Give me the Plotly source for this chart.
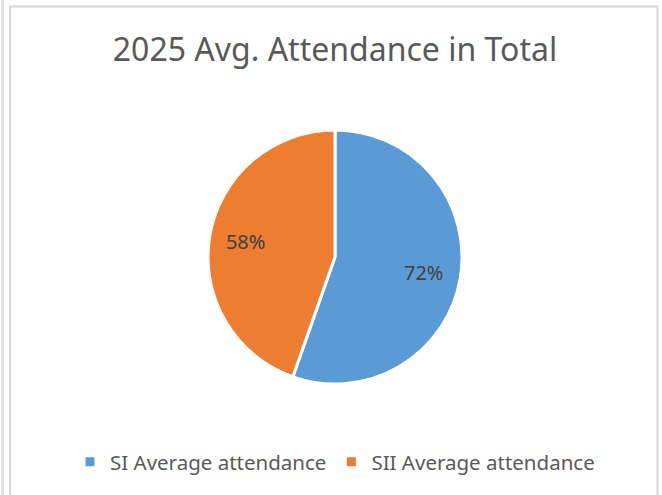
import plotly.graph_objects as go

labels = ["SI Average attendance", "SII Average attendance"]
values = [72, 58]
colors = ["#5B9BD5", "#ED7D31"]
title_text = "2025 Avg. Attendance in Total"

W, H = 662, 495
CX, CY, R = 335, 257, 127
RL = 180  # radius of the invisible label-carrying pie

def px(x):
    return x / W

def py(y):
    return 1 - y / H

fig = go.Figure()
fig.add_trace(go.Pie(
    labels=labels,
    values=values,
    sort=False,
    direction="clockwise",
    rotation=0,
    marker=dict(colors=colors, line=dict(color="white", width=3)),
    textinfo="none",
    hoverinfo="label+value",
    domain=dict(x=[px(CX - R), px(CX + R)], y=[py(CY + R), py(CY - R)]),
))
fig.add_trace(go.Pie(
    labels=labels,
    values=values,
    sort=False,
    direction="clockwise",
    rotation=0,
    marker=dict(colors=["rgba(0,0,0,0)", "rgba(0,0,0,0)"], line=dict(width=0)),
    texttemplate="%{value}%",
    textposition="inside",
    insidetextorientation="horizontal",
    textfont=dict(family="Noto Sans", size=20, color="#404040"),
    hoverinfo="skip",
    showlegend=False,
    domain=dict(x=[px(CX - RL), px(CX + RL)], y=[py(CY + RL), py(CY - RL)]),
))

fig.update_layout(
    width=W, height=H,
    margin=dict(l=0, r=0, t=0, b=0),
    paper_bgcolor="white",
    title=dict(text=title_text, x=px(335), xanchor="center", y=py(50), yanchor="middle",
               yref="container",
               font=dict(family="Noto Sans", size=32, color="#595959")),
    legend=dict(orientation="h", x=px(335), xanchor="center", y=py(462), yanchor="middle",
                font=dict(family="Noto Sans", size=20.5, color="#595959"),
                traceorder="normal", itemwidth=30),
    shapes=[
        dict(type="rect", xref="paper", yref="paper",
             x0=px(10), x1=px(657.5), y0=py(510), y1=py(6.5),
             line=dict(color="#D6D6D6", width=2), fillcolor="rgba(0,0,0,0)"),
        dict(type="line", xref="paper", yref="paper",
             x0=px(2.5), x1=px(2.5), y0=py(0), y1=py(495),
             line=dict(color="#E3E3E3", width=3)),
    ],
)

fig.write_html("out.html", post_script="document.body.style.margin='0';",
               config={"displayModeBar": False})
